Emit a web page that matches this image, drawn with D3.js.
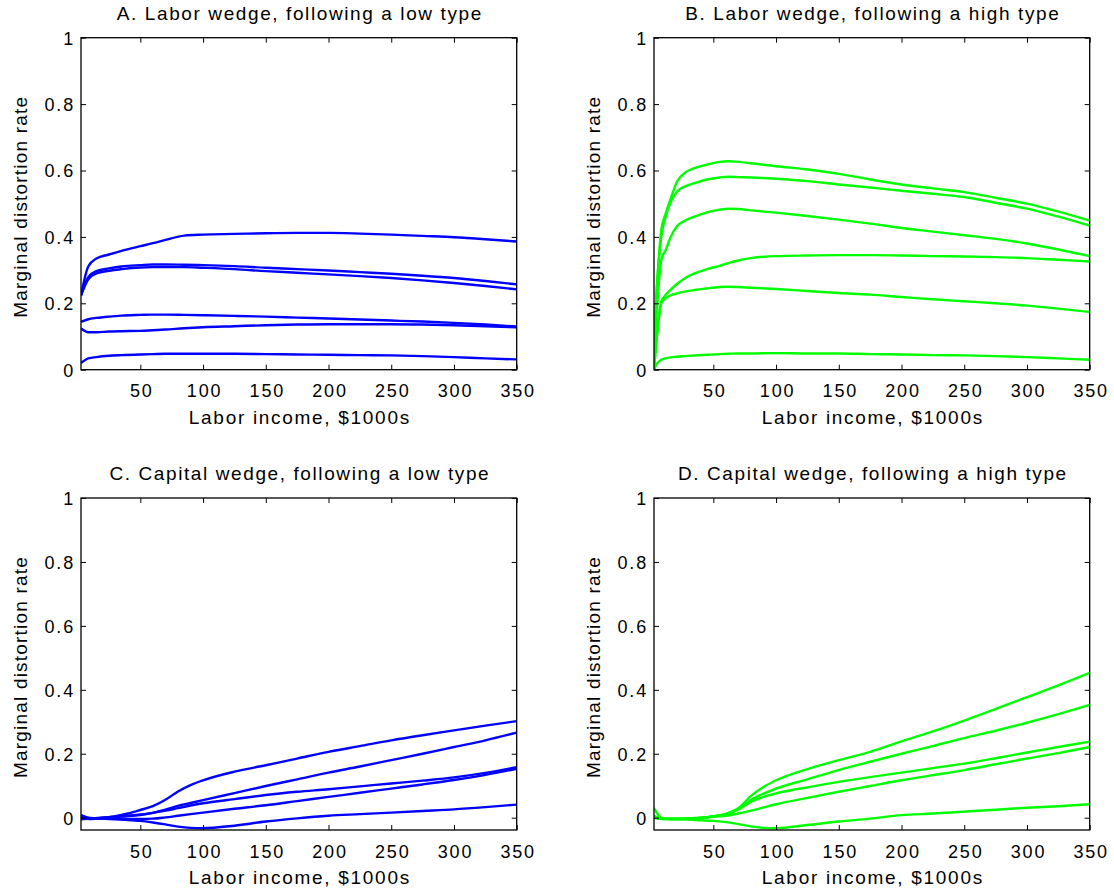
<!DOCTYPE html>
<html>
<head>
<meta charset="utf-8">
<script src="https://cdn.jsdelivr.net/npm/d3@7"></script>
<style>
  body { margin: 0; background: #fff; }
  svg { font-family: "Liberation Sans", Arial, sans-serif; }
</style>
</head>
<body>
<svg width="1114" height="895"></svg>
<script>
//chart data
const titles = [
  "A. Labor wedge, following a low type",
  "B. Labor wedge, following a high type",
  "C. Capital wedge, following a low type",
  "D. Capital wedge, following a high type"
];
const xTicks = [50, 100, 150, 200, 250, 300, 350];
const yTicks = [0, 0.2, 0.4, 0.6, 0.8, 1];

//labor income ($1000s) for the labor wedge, low type
const incomeA = [2.7, 8.5, 15, 25, 35, 50, 60, 70, 85, 100, 125, 150, 175, 200, 225, 250, 275, 300, 325, 350];
const laborLow = [
  [0.224, 0.311, 0.335, 0.347, 0.358, 0.372, 0.381, 0.391, 0.404, 0.407, 0.409, 0.411, 0.412, 0.412, 0.410, 0.407, 0.403, 0.399, 0.393, 0.386],
  [0.224, 0.279, 0.297, 0.305, 0.311, 0.315, 0.317, 0.317, 0.316, 0.315, 0.312, 0.307, 0.303, 0.299, 0.294, 0.289, 0.283, 0.276, 0.267, 0.257],
  [0.224, 0.272, 0.290, 0.298, 0.303, 0.308, 0.309, 0.309, 0.309, 0.307, 0.303, 0.297, 0.292, 0.287, 0.282, 0.276, 0.269, 0.261, 0.252, 0.242],
  [0.144, 0.152, 0.156, 0.160, 0.163, 0.165, 0.166, 0.166, 0.165, 0.164, 0.162, 0.160, 0.157, 0.154, 0.151, 0.148, 0.145, 0.141, 0.136, 0.130],
  [0.124, 0.113, 0.113, 0.115, 0.116, 0.117, 0.119, 0.121, 0.125, 0.128, 0.131, 0.134, 0.136, 0.137, 0.137, 0.137, 0.136, 0.134, 0.131, 0.128],
  [0.020, 0.034, 0.038, 0.042, 0.044, 0.046, 0.047, 0.048, 0.048, 0.048, 0.048, 0.047, 0.046, 0.045, 0.044, 0.043, 0.041, 0.038, 0.034, 0.031]
];

//labor income for the labor wedge, high type
const incomeB = [2.7, 5, 8.5, 12, 16, 21, 28, 35, 45, 55, 62, 70, 80, 100, 125, 150, 175, 200, 225, 250, 275, 300, 325, 350];
const laborHigh = [
  [0.09, 0.25, 0.42, 0.47, 0.515, 0.566, 0.595, 0.607, 0.618, 0.626, 0.628, 0.626, 0.622, 0.613, 0.603, 0.590, 0.573, 0.558, 0.546, 0.535, 0.518, 0.500, 0.476, 0.449],
  [0.09, 0.25, 0.40, 0.46, 0.505, 0.536, 0.553, 0.562, 0.573, 0.579, 0.581, 0.580, 0.579, 0.575, 0.568, 0.558, 0.549, 0.539, 0.530, 0.520, 0.503, 0.485, 0.461, 0.434],
  [0.05, 0.18, 0.33, 0.36, 0.40, 0.432, 0.450, 0.461, 0.474, 0.482, 0.485, 0.484, 0.480, 0.473, 0.463, 0.452, 0.440, 0.427, 0.416, 0.405, 0.394, 0.380, 0.362, 0.342],
  [0.0, 0.10, 0.205, 0.225, 0.241, 0.258, 0.277, 0.290, 0.303, 0.313, 0.321, 0.329, 0.336, 0.342, 0.344, 0.345, 0.345, 0.344, 0.342, 0.341, 0.339, 0.336, 0.331, 0.326],
  [0.0, 0.10, 0.200, 0.215, 0.224, 0.230, 0.236, 0.240, 0.245, 0.249, 0.250, 0.249, 0.247, 0.243, 0.237, 0.231, 0.226, 0.219, 0.212, 0.206, 0.200, 0.193, 0.184, 0.174],
  [0.0, 0.018, 0.030, 0.034, 0.037, 0.039, 0.041, 0.043, 0.045, 0.047, 0.048, 0.049, 0.049, 0.050, 0.049, 0.049, 0.047, 0.046, 0.044, 0.043, 0.041, 0.038, 0.034, 0.030]
];

//labor income for both capital wedge panels
const incomeC = [2.7, 10, 20, 30, 40, 50, 60, 70, 80, 90, 100, 125, 150, 175, 200, 225, 250, 275, 300, 325, 350];
const capitalLow = [
  [0.005, -0.002, 0.000, 0.005, 0.013, 0.024, 0.036, 0.056, 0.082, 0.102, 0.117, 0.144, 0.164, 0.185, 0.206, 0.224, 0.242, 0.258, 0.273, 0.288, 0.302],
  [-0.005, -0.003, -0.001, 0.002, 0.005, 0.008, 0.015, 0.025, 0.037, 0.046, 0.055, 0.077, 0.099, 0.120, 0.141, 0.160, 0.180, 0.200, 0.221, 0.242, 0.266],
  [0.000, -0.002, 0.000, 0.003, 0.006, 0.010, 0.015, 0.022, 0.030, 0.038, 0.045, 0.058, 0.071, 0.081, 0.089, 0.098, 0.107, 0.116, 0.126, 0.140, 0.158],
  [-0.003, -0.004, -0.003, -0.003, -0.004, -0.004, -0.003, 0.001, 0.006, 0.011, 0.016, 0.028, 0.039, 0.052, 0.065, 0.078, 0.091, 0.104, 0.118, 0.134, 0.153],
  [0.008, -0.001, -0.003, -0.005, -0.007, -0.010, -0.015, -0.021, -0.028, -0.032, -0.033, -0.025, -0.012, -0.002, 0.006, 0.011, 0.016, 0.021, 0.026, 0.033, 0.041]
];
const capitalHigh = [
  [0.030, -0.004, -0.004, -0.003, -0.001, 0.004, 0.012, 0.030, 0.068, 0.096, 0.117, 0.152, 0.180, 0.206, 0.239, 0.270, 0.304, 0.340, 0.377, 0.414, 0.453],
  [0.005, -0.003, -0.003, -0.002, 0.000, 0.004, 0.010, 0.027, 0.055, 0.075, 0.091, 0.120, 0.149, 0.175, 0.200, 0.224, 0.249, 0.272, 0.297, 0.324, 0.353],
  [0.005, -0.003, -0.003, -0.002, 0.000, 0.004, 0.010, 0.026, 0.049, 0.065, 0.076, 0.095, 0.112, 0.127, 0.141, 0.155, 0.169, 0.186, 0.204, 0.221, 0.238],
  [0.000, -0.004, -0.004, -0.003, -0.001, 0.003, 0.006, 0.013, 0.022, 0.032, 0.042, 0.062, 0.081, 0.099, 0.117, 0.133, 0.149, 0.167, 0.185, 0.202, 0.221],
  [0.000, -0.003, -0.005, -0.006, -0.008, -0.010, -0.014, -0.020, -0.027, -0.032, -0.033, -0.023, -0.012, -0.003, 0.008, 0.013, 0.019, 0.025, 0.031, 0.036, 0.042]
];

const blue = "#0000ff";
const green = "#00ff00";

//panel layout
const panels = [
  {title: titles[0], x: incomeA, series: laborLow,    color: blue,  left: 81,  top: 37.7, yMin: 0},
  {title: titles[1], x: incomeB, series: laborHigh,   color: green, left: 654, top: 37.7, yMin: 0},
  {title: titles[2], x: incomeC, series: capitalLow,  color: blue,  left: 81,  top: 498,  yMin: -0.0385},
  {title: titles[3], x: incomeC, series: capitalHigh, color: green, left: 654, top: 498,  yMin: -0.0385}
];
const pw = 435.7, ph = 332;

const svg = d3.select("svg");

panels.forEach((p, i) => {
  const g = svg.append("g").attr("transform", `translate(${p.left},${p.top})`);

  const x = d3.scaleLinear().domain([2.7, 350]).range([0, pw]);
  const y = d3.scaleLinear().domain([p.yMin, 1]).range([ph, 0]);

  //clip
  g.append("clipPath").attr("id", "clip" + i)
    .append("rect").attr("width", pw).attr("height", ph);

  //lines
  const line = d3.line()
    .x((d, j) => x(p.x[j]))
    .y(d => y(d))
    .curve(d3.curveMonotoneX);

  g.append("g").attr("clip-path", `url(#clip${i})`)
    .selectAll("path")
    .data(p.series)
    .enter().append("path")
    .attr("d", line)
    .attr("fill", "none")
    .attr("stroke", p.color)
    .attr("stroke-width", 2.4)
    .attr("stroke-linejoin", "round");

  //axes, ticks inside
  const bottom = g.append("g").attr("transform", `translate(0,${ph})`)
    .call(d3.axisBottom(x).tickValues(xTicks).tickSizeInner(-5).tickSizeOuter(0).tickPadding(15));
  const left = g.append("g")
    .call(d3.axisLeft(y).tickValues(yTicks).tickSizeInner(-5).tickSizeOuter(0).tickPadding(6).tickFormat(d3.format("~g")));
  g.append("g")
    .call(d3.axisTop(x).tickValues(xTicks).tickSizeInner(-5).tickSizeOuter(0).tickFormat(""));
  g.append("g").attr("transform", `translate(${pw},0)`)
    .call(d3.axisRight(y).tickValues(yTicks).tickSizeInner(-5).tickSizeOuter(0).tickFormat(""));

  g.selectAll(".domain").remove();
  g.selectAll(".tick line").attr("stroke", "#000").attr("stroke-width", 1);
  g.selectAll(".tick text")
    .attr("fill", "#000")
    .style("font-family", '"Liberation Sans", Arial, sans-serif')
    .style("font-size", "18px")
    .style("letter-spacing", "1.8px");
  bottom.selectAll(".tick text").attr("dx", "1");
  left.selectAll(".tick text").attr("dy", "0.36em");

  //frame
  g.append("rect")
    .attr("width", pw).attr("height", ph)
    .attr("fill", "none")
    .attr("stroke", "#000")
    .attr("stroke-width", 1.3);

  //title
  g.append("text")
    .attr("x", pw / 2 + 1).attr("y", -24.5)
    .attr("dy", "0.35em")
    .attr("text-anchor", "middle")
    .style("font-size", "19px")
    .style("letter-spacing", "1.6px")
    .text(p.title);

  //axis labels
  g.append("text")
    .attr("x", pw / 2 + 1).attr("y", ph + 47.5)
    .attr("dy", "0.35em")
    .attr("text-anchor", "middle")
    .style("font-size", "19px")
    .style("letter-spacing", "1.7px")
    .text("Labor income, $1000s");

  g.append("text")
    .attr("transform", `translate(-60.5,${ph / 2 + 3}) rotate(-90)`)
    .attr("dy", "0.35em")
    .attr("text-anchor", "middle")
    .style("font-size", "19px")
    .style("letter-spacing", "1.2px")
    .text("Marginal distortion rate");
});
</script>
</body>
</html>
